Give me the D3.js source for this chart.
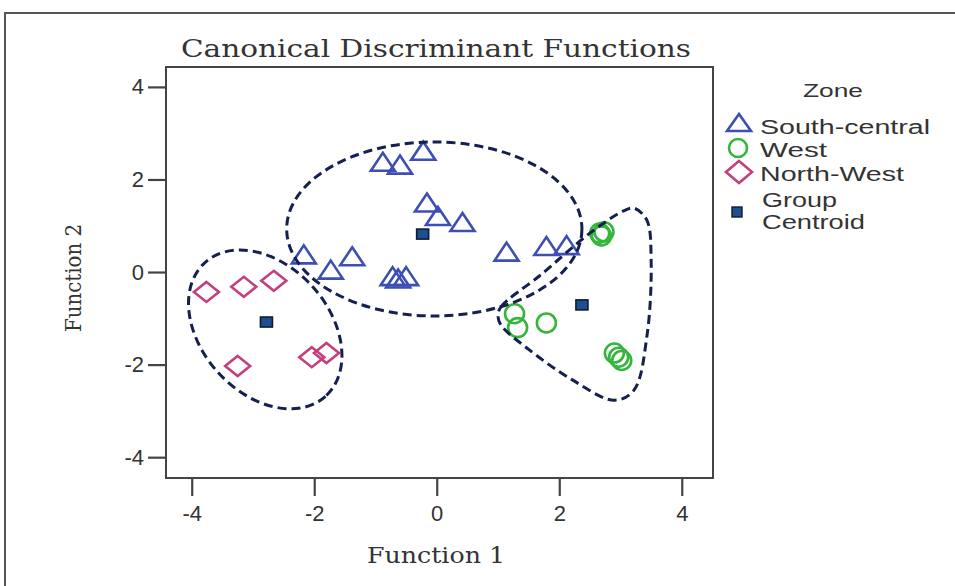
<!DOCTYPE html>
<html>
<head>
<meta charset="utf-8">
<script src="https://cdn.jsdelivr.net/npm/d3@7"></script>
<style>
  html, body { margin: 0; padding: 0; background: #fff; }
  svg { display: block; }
</style>
</head>
<body>
<svg id="chart" width="955" height="586"></svg>
<script>
// Discriminant scores per zone (Function 1, Function 2)
const southCentral = [
  [-0.88, 2.36], [-0.60, 2.30], [-0.22, 2.60], [-0.16, 1.48], [0.02, 1.19],
  [0.42, 1.06], [1.14, 0.42], [1.79, 0.54], [2.12, 0.56], [-2.17, 0.36],
  [-1.73, 0.03], [-1.38, 0.32], [-0.72, -0.11], [-0.50, -0.11], [-0.63, -0.16]
];
const west = [
  [2.73, 0.87], [2.69, 0.78], [2.66, 0.84], [1.27, -0.90], [1.32, -1.20],
  [1.79, -1.10], [2.90, -1.75], [2.97, -1.84], [3.02, -1.91]
];
const northWest = [
  [-3.76, -0.43], [-3.15, -0.32], [-2.66, -0.19], [-3.25, -2.03],
  [-2.04, -1.84], [-1.80, -1.75]
];
const centroids = [[-0.23, 0.82], [-2.78, -1.08], [2.37, -0.71]];

const zones = ["South-central", "West", "North-West"];
const xTicks = [-4, -2, 0, 2, 4];
const yTicks = [-4, -2, 0, 2, 4];

// Group boundaries drawn around the clusters, in function-score units
const groupEllipses = [
  { cx: -0.04, cy: 0.93, rx: 2.41, ry: 1.88, angle: 0 },
  { cx: -2.80, cy: -1.24, rx: 1.47, ry: 1.38, angle: 48 }
];
const westOutline = [
  [1.00, -0.95], [1.05, -0.75], [1.68, -0.08], [2.50, 0.84], [3.05, 1.32],
  [3.22, 1.38], [3.43, 1.12], [3.50, 0.26], [3.43, -1.40], [3.22, -2.55],
  [2.90, -2.77], [2.20, -2.32], [1.45, -1.62], [1.05, -1.15]
];

const svg = d3.select("#chart");

// Outer frame (top and left edges)
svg.append("path")
  .attr("d", "M5,586 L5,13 L955,13")
  .attr("fill", "none").attr("stroke", "#555").attr("stroke-width", 2);

const plot = { left: 166, right: 713, top: 67, bottom: 478 };

const x = d3.scaleLinear().domain([-4.42, 4.51]).range([plot.left, plot.right]);
const y = d3.scaleLinear().domain([-4.45, 4.43]).range([plot.bottom, plot.top]);

// Title
svg.append("text")
  .attr("x", 436).attr("y", 57)
  .attr("text-anchor", "middle")
  .attr("font-family", "DejaVu Serif, serif")
  .attr("font-size", 24)
  .attr("fill", "#333")
  .attr("textLength", 510).attr("lengthAdjust", "spacingAndGlyphs")
  .text("Canonical Discriminant Functions");

// Plot frame
svg.append("rect")
  .attr("x", plot.left).attr("y", plot.top)
  .attr("width", plot.right - plot.left).attr("height", plot.bottom - plot.top)
  .attr("fill", "none").attr("stroke", "#444").attr("stroke-width", 2);

// Axes
const fmt = d => String(d);
const xAxis = d3.axisBottom(x).tickValues(xTicks).tickFormat(fmt).tickSize(18).tickSizeOuter(0).tickPadding(9);
const yAxis = d3.axisLeft(y).tickValues(yTicks).tickFormat(fmt).tickSize(18).tickSizeOuter(0).tickPadding(4);

const gx = svg.append("g").attr("transform", `translate(0,${plot.bottom})`).call(xAxis);
const gy = svg.append("g").attr("transform", `translate(${plot.left},0)`).call(yAxis);
[gx, gy].forEach(g => {
  g.select(".domain").remove();
  g.selectAll(".tick line").attr("stroke", "#444").attr("stroke-width", 2.2);
  g.selectAll(".tick text")
    .attr("font-family", "Liberation Sans, Arial, sans-serif")
    .attr("font-size", 22).attr("fill", "#333");
});

// Axis titles
svg.append("text")
  .attr("x", 436).attr("y", 563)
  .attr("text-anchor", "middle")
  .attr("font-family", "DejaVu Serif, serif")
  .attr("font-size", 23).attr("fill", "#333")
  .attr("textLength", 138).attr("lengthAdjust", "spacingAndGlyphs")
  .text("Function 1");
svg.append("text")
  .attr("transform", "translate(81,278) rotate(-90)")
  .attr("text-anchor", "middle")
  .attr("font-family", "DejaVu Serif, serif")
  .attr("font-size", 23).attr("fill", "#333")
  .attr("textLength", 108).attr("lengthAdjust", "spacingAndGlyphs")
  .text("Function 2");

// Marker shapes
const colors = { "South-central": "#3d4fb3", "West": "#34b53c", "North-West": "#c4407c" };
const triPath = "M0,-10 L12,8 L-12,8 Z";
const diaPath = "M0,-10 L12.5,0 L0,10 L-12.5,0 Z";

const marks = svg.append("g");

marks.selectAll(".tri").data(southCentral).join("path")
  .attr("transform", d => `translate(${x(d[0])},${y(d[1])})`)
  .attr("d", triPath)
  .attr("fill", "none").attr("stroke", colors["South-central"])
  .attr("stroke-width", 2.6).attr("stroke-linejoin", "miter");

marks.selectAll(".circ").data(west).join("circle")
  .attr("cx", d => x(d[0])).attr("cy", d => y(d[1])).attr("r", 9.5)
  .attr("fill", "none").attr("stroke", colors["West"]).attr("stroke-width", 2.6);

marks.selectAll(".dia").data(northWest).join("path")
  .attr("transform", d => `translate(${x(d[0])},${y(d[1])})`)
  .attr("d", diaPath)
  .attr("fill", "none").attr("stroke", colors["North-West"]).attr("stroke-width", 2.6);

marks.selectAll(".cen").data(centroids).join("rect")
  .attr("x", d => x(d[0]) - 6).attr("y", d => y(d[1]) - 5)
  .attr("width", 12).attr("height", 10)
  .attr("fill", "#1f4f8f").attr("stroke", "#0d1b33").attr("stroke-width", 1.6);

// Dashed group boundaries
const bounds = svg.append("g")
  .attr("fill", "none").attr("stroke", "#15204f")
  .attr("stroke-width", 3).attr("stroke-dasharray", "9,5");

groupEllipses.forEach(e => {
  const px = x(e.cx), py = y(e.cy);
  const a = Math.abs(x(e.rx) - x(0)), b = Math.abs(y(e.ry) - y(0));
  bounds.append("ellipse")
    .attr("cx", 0).attr("cy", 0).attr("rx", a).attr("ry", b)
    .attr("transform", `translate(${px},${py}) rotate(${e.angle})`);
});

bounds.append("path")
  .attr("d", d3.line().x(d => x(d[0])).y(d => y(d[1])).curve(d3.curveCatmullRomClosed.alpha(0.5))(westOutline));

// Legend
const lg = svg.append("g").attr("font-family", "Liberation Sans, Arial, sans-serif").attr("fill", "#333");
lg.append("text").attr("x", 833).attr("y", 97).attr("text-anchor", "middle")
  .attr("font-size", 19).attr("textLength", 60).attr("lengthAdjust", "spacingAndGlyphs").text("Zone");

const legendRows = [
  { label: zones[0], y: 127, len: 170 },
  { label: zones[1], y: 150, len: 67 },
  { label: zones[2], y: 174, len: 144 }
];
legendRows.forEach(r => {
  const mx = 739;
  if (r.label === zones[0]) {
    lg.append("path").attr("transform", `translate(${mx},${r.y - 4})`).attr("d", "M0,-9 L12,8 L-12,8 Z")
      .attr("fill", "none").attr("stroke", colors[r.label]).attr("stroke-width", 2.6);
  } else if (r.label === zones[1]) {
    lg.append("circle").attr("cx", mx - 1).attr("cy", r.y - 2).attr("r", 9)
      .attr("fill", "none").attr("stroke", colors[r.label]).attr("stroke-width", 2.6);
  } else {
    lg.append("path").attr("transform", `translate(${mx},${r.y - 2})`).attr("d", "M0,-11 L13,0 L0,11 L-13,0 Z")
      .attr("fill", "none").attr("stroke", colors[r.label]).attr("stroke-width", 2.6);
  }
  lg.append("text").attr("x", 760).attr("y", r.y + 7).attr("font-size", 20)
    .attr("textLength", r.len).attr("lengthAdjust", "spacingAndGlyphs").text(r.label);
});
lg.append("rect").attr("x", 732).attr("y", 207).attr("width", 10).attr("height", 10)
  .attr("fill", "#1f4f8f").attr("stroke", "#0d1b33").attr("stroke-width", 1.4);
lg.append("text").attr("x", 762).attr("y", 207).attr("font-size", 20)
  .attr("textLength", 75).attr("lengthAdjust", "spacingAndGlyphs").text("Group");
lg.append("text").attr("x", 762).attr("y", 229).attr("font-size", 20)
  .attr("textLength", 103).attr("lengthAdjust", "spacingAndGlyphs").text("Centroid");
</script>
</body>
</html>
